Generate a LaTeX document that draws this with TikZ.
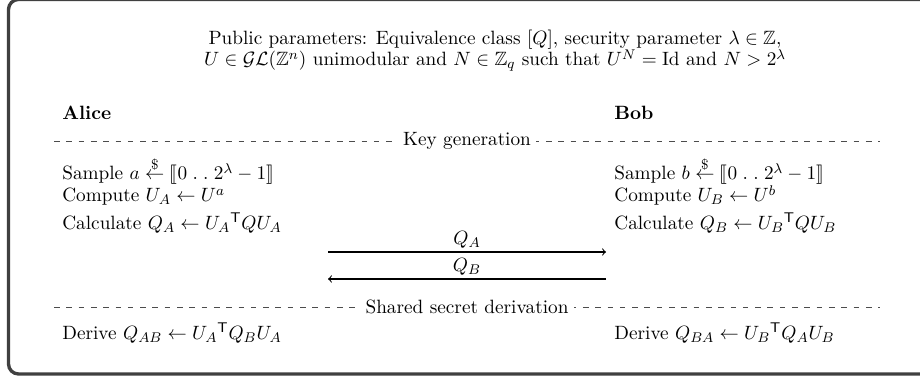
\documentclass[tikz,border=0pt,11pt]{standalone}
\usepackage{amsmath}
\usepackage{amssymb}
\usepackage{stmaryrd}

\tikzset{
  sepline/.style={line width=0.4pt, black!70, dash pattern=on 3.2pt off 3.8pt},
  seplabel/.style={fill=white, text=black, inner sep=3pt},
  msg/.style={->, semithick},
  party/.style={anchor=base west, inner sep=0pt, font=\bfseries},
  row/.style={anchor=base west, inner sep=0pt}
}

\begin{document}
\begin{tikzpicture}
\useasboundingbox (0,0) rectangle (18.4,7.54);
\clip (0,0) rectangle (18.4,7.54);
% frame:
\draw[line width=1.9pt, black!75, rounded corners=0.2cm] (0.17,0.06) rectangle (19.7,7.55);
% public parameters:
\node[anchor=base, inner sep=0pt] (pp1) at (9.9,6.64) {Public parameters: Equivalence class $[Q]$, security parameter $\lambda \in \mathbb{Z}$,};
\node[anchor=base, inner sep=0pt] (pp2) at (9.9,6.22) {$U \in \mathcal{GL}(\mathbb{Z}^n)$ unimodular and $N \in \mathbb{Z}_q$ such that $U^N = \mathrm{Id}$ and $N > 2^\lambda$};
% parties:
\node[party] (alice) at (1.24,5.14) {Alice};
\node[party] (bob) at (12.28,5.14) {Bob};
% key generation:
\coordinate (kgl) at (1.08,4.72);
\coordinate (kgr) at (17.6,4.72);
\draw[sepline] (kgl) -- (kgr) node[midway, seplabel] (kg) {Key generation};
\node[row] (samplea) at (1.24,3.94) {Sample $a \stackrel{\$}{\leftarrow} \llbracket 0 \mathrel{.\;.} 2^{\lambda} - 1 \rrbracket$};
\node[row] (computea) at (1.24,3.5) {Compute $U_A \leftarrow U^a$};
\node[row] (calca) at (1.24,2.94) {Calculate $Q_A \leftarrow {U_A}^{\mathsf{T}} Q U_A$};
\node[row] (sampleb) at (12.28,3.94) {Sample $b \stackrel{\$}{\leftarrow} \llbracket 0 \mathrel{.\;.} 2^{\lambda} - 1 \rrbracket$};
\node[row] (computeb) at (12.28,3.5) {Compute $U_B \leftarrow U^b$};
\node[row] (calcb) at (12.28,2.94) {Calculate $Q_B \leftarrow {U_B}^{\mathsf{T}} Q U_B$};
% messages:
\coordinate (qal) at (6.56,2.5);
\coordinate (qar) at (12.12,2.5);
\coordinate (qbl) at (6.56,1.96);
\coordinate (qbr) at (12.12,1.96);
\draw[msg] (qal) -- (qar) node[midway, above, inner sep=2pt] (qa) {$Q_A$};
\draw[msg] (qbr) -- (qbl) node[midway, above, inner sep=2pt] (qb) {$Q_B$};
% shared secret derivation:
\coordinate (ssl) at (1.08,1.4);
\coordinate (ssr) at (17.6,1.4);
\draw[sepline] (ssl) -- (ssr) node[midway, seplabel] (ss) {Shared secret derivation};
\node[row] (derivea) at (1.24,0.74) {Derive $Q_{AB} \leftarrow {U_A}^{\mathsf{T}} Q_B U_A$};
\node[row] (deriveb) at (12.28,0.74) {Derive $Q_{BA} \leftarrow {U_B}^{\mathsf{T}} Q_A U_B$};
\end{tikzpicture}
\end{document}
